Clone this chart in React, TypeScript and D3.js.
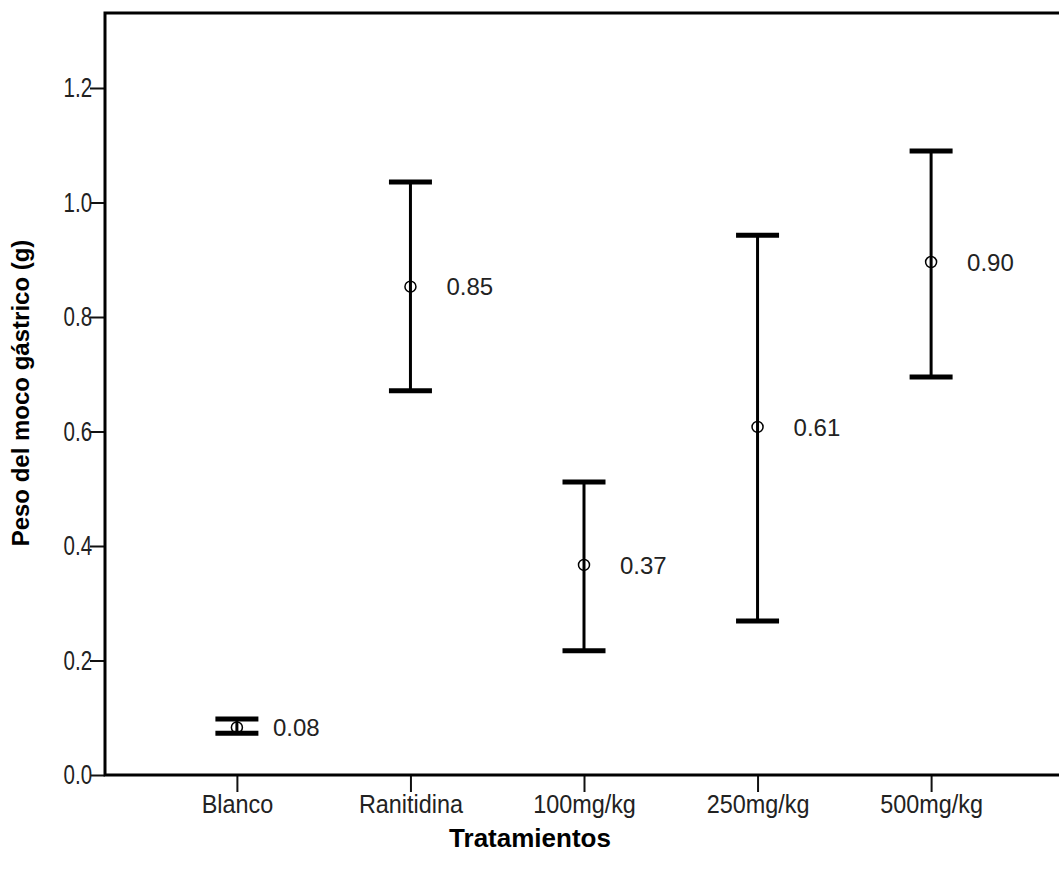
import { useEffect, useRef } from "react";
import * as d3 from "d3";

const WIDTH = 1059;
const HEIGHT = 871;
const MARGIN = { top: 13, right: -4, bottom: 96, left: 105 };

const CATEGORIES = ["Blanco", "Ranitidina", "100mg/kg", "250mg/kg", "500mg/kg"];
const MEANS = [0.083, 0.853, 0.367, 0.608, 0.896];
const LOWER = [0.073, 0.671, 0.217, 0.269, 0.695];
const UPPER = [0.098, 1.036, 0.512, 0.943, 1.09];
const Y_TICKS = [0, 0.2, 0.4, 0.6, 0.8, 1.0, 1.2];
const Y_MAX = 1.331;

const X_LABEL = "Tratamientos";
const Y_LABEL = "Peso del moco gástrico (g)";

const FONT = "Liberation Sans, Arial, sans-serif";

function App() {
  const ref = useRef<SVGSVGElement | null>(null);

  useEffect(() => {
    const svg = d3.select(ref.current);
    svg.selectAll("*").remove();

    const x0 = MARGIN.left;
    const x1 = WIDTH - MARGIN.right;
    const y0 = HEIGHT - MARGIN.bottom;
    const y1 = MARGIN.top;

    const x = d3.scalePoint<string>().domain(CATEGORIES).range([x0, x1]).padding(0.76);
    const y = d3.scaleLinear().domain([0, Y_MAX]).range([y0, y1]);

    svg.append("rect").attr("width", WIDTH).attr("height", HEIGHT).attr("fill", "#fff");

    // y axis
    const yAxis = svg
      .append("g")
      .attr("transform", `translate(${x0},0)`)
      .call(
        d3
          .axisLeft(y)
          .tickValues(Y_TICKS)
          .tickSize(15)
          .tickPadding(2)
          .tickFormat((d) => d3.format(".1f")(d as number))
      );
    yAxis.select(".domain").remove();
    yAxis.selectAll(".tick line").attr("stroke", "#111").attr("stroke-width", 2);
    yAxis
      .selectAll(".tick text")
      .attr("fill", "#222")
      .attr("font-family", FONT)
      .attr("font-size", 27)
      .attr("transform", "scale(0.76,1)");

    // x axis
    const xAxis = svg
      .append("g")
      .attr("transform", `translate(0,${y0})`)
      .call(d3.axisBottom(x).tickSize(17).tickPadding(3));
    xAxis.select(".domain").remove();
    xAxis.selectAll(".tick line").attr("stroke", "#111").attr("stroke-width", 2);
    xAxis
      .selectAll(".tick text")
      .attr("fill", "#222")
      .attr("font-family", FONT)
      .attr("font-size", 26)
      .attr("transform", "scale(0.9,1)");

    // frame lines (left, bottom, top)
    svg
      .append("path")
      .attr("d", `M${x1 + 10},${y1} H${x0} V${y0} H${x1 + 10}`)
      .attr("fill", "none")
      .attr("stroke", "#000")
      .attr("stroke-width", 3);

    // error bars
    const capW = 43;
    const bars = svg
      .append("g")
      .selectAll("g")
      .data(CATEGORIES.map((c, i) => ({ c, m: MEANS[i], lo: LOWER[i], hi: UPPER[i] })))
      .join("g")
      .attr("transform", (d) => `translate(${x(d.c)},0)`);

    bars
      .append("line")
      .attr("y1", (d) => y(d.hi))
      .attr("y2", (d) => y(d.lo))
      .attr("stroke", "#000")
      .attr("stroke-width", 3);

    bars
      .selectAll("line.cap")
      .data((d) => [d.hi, d.lo])
      .join("line")
      .attr("class", "cap")
      .attr("x1", -capW / 2)
      .attr("x2", capW / 2)
      .attr("y1", (v) => y(v))
      .attr("y2", (v) => y(v))
      .attr("stroke", "#000")
      .attr("stroke-width", 5);

    bars
      .append("circle")
      .attr("cy", (d) => y(d.m))
      .attr("r", 5.5)
      .attr("fill", "none")
      .attr("stroke", "#000")
      .attr("stroke-width", 1.5);

    bars
      .append("text")
      .attr("x", 36)
      .attr("y", (d) => y(d.m))
      .attr("dy", "0.36em")
      .attr("font-family", FONT)
      .attr("font-size", 24)
      .attr("fill", "#222")
      .text((d) => d.m.toFixed(2));

    // axis titles
    svg
      .append("text")
      .attr("x", 530)
      .attr("y", 847)
      .attr("text-anchor", "middle")
      .attr("font-family", FONT)
      .attr("font-weight", "bold")
      .attr("font-size", 26)
      .attr("fill", "#000")
      .text(X_LABEL);

    svg
      .append("text")
      .attr("transform", "translate(29,393) rotate(-90)")
      .attr("text-anchor", "middle")
      .attr("font-family", FONT)
      .attr("font-weight", "bold")
      .attr("font-size", 24)
      .attr("fill", "#000")
      .text(Y_LABEL);
  }, []);

  return (
    <svg
      ref={ref}
      width={WIDTH}
      height={HEIGHT}
      style={{ position: "absolute", left: 0, top: 0, display: "block" }}
    />
  );
}

export default App;
